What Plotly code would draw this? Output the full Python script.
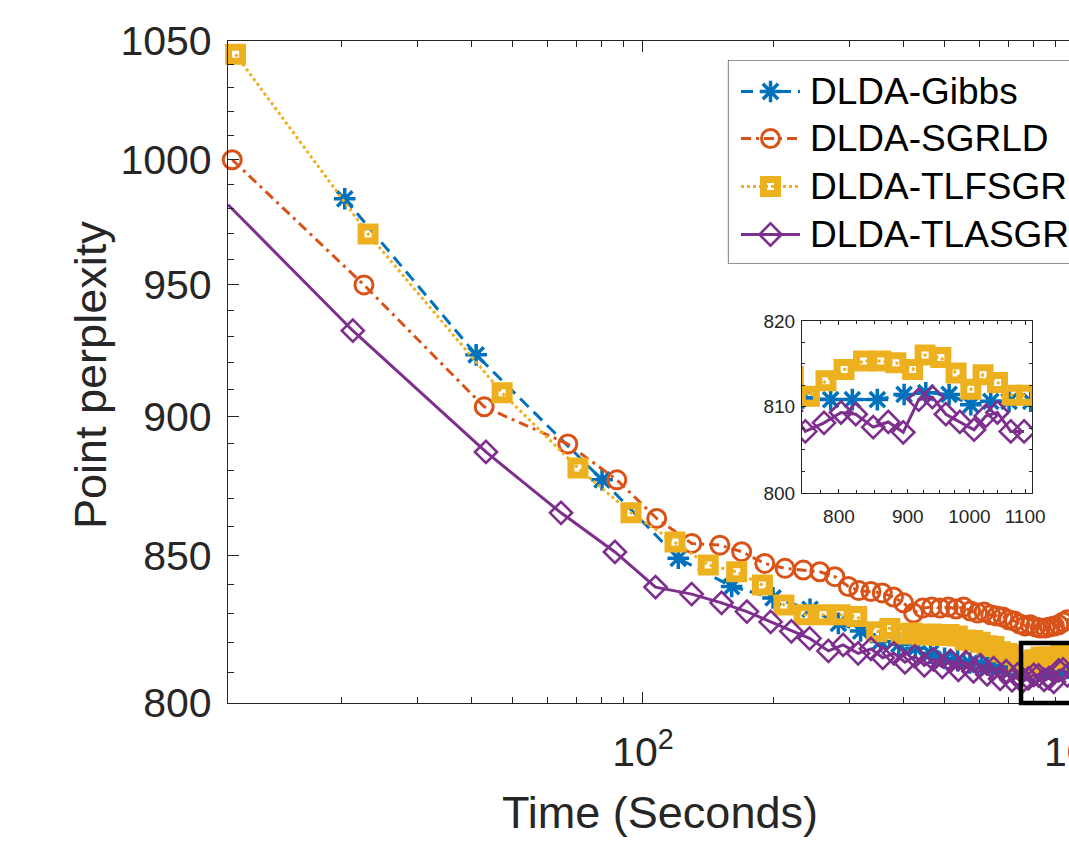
import numpy as np
import plotly.graph_objects as go

# ---------------- data ----------------
gibbs_t = [20.4, 41.1, 80.4, 120.7, 160.4, 200, 243.6, 283.3, 319, 355, 391, 427, 463, 499,
           535, 571, 607, 643, 679, 715, 752, 788.7, 818.5, 854.3, 894.3, 928.1, 965.9, 1002.4,
           1037.2, 1070.2, 1110.6]
gibbs_v = [984.1, 923.0, 876.8, 849.0, 839.2, 835.3, 831.4, 826.6, 824.0, 820.5, 819.5, 818.2,
           816.5, 814.8, 814.0, 813.3, 812.8, 812.2, 811.8, 811.4, 811.0, 810.8, 810.8, 810.8,
           811.4, 811.6, 811.4, 810.2, 810.6, 810.6, 810.6]

sgrld_t = [11.2, 22.6, 42.9, 67, 87, 107.6, 129.7, 150.7, 169.2, 191.4, 213.2, 235, 256.7, 278,
           298.8, 316, 337, 358, 380, 401, 423, 444, 466, 487, 509, 530, 552, 573, 595, 616, 638,
           659, 681, 702, 724, 745, 767, 788, 810, 831, 853, 874, 896, 917, 939, 960, 982, 1004,
           1026, 1048, 1070, 1092]
sgrld_v = [1000, 949.9, 903.5, 889.8, 876.8, 863.0, 854.2, 853.6, 851.3, 847.2, 845.5, 844.9,
           844.3, 842.6, 839.2, 837.8, 837.5, 837.0, 835.6, 833.6, 830.1, 831.8, 832.2, 831.8,
           832.2, 831.5, 832.2, 830.8, 830.1, 830.5, 829.5, 829.1, 828.8, 827.8, 827.4, 826.4,
           825.7, 826.1, 825.4, 825.0, 825.0, 825.4, 825.7, 826.1, 827.1, 827.8, 827.8, 827.5,
           827.0, 826.5, 826.8, 827.0]

tlfsgr_t = [11.4, 23.1, 47.2, 70.7, 93.8, 118.6, 141.6, 164.8, 189, 212, 236, 261, 285.8,
            312.5, 347.5, 372.8, 396, 419, 442, 465, 488, 511, 534, 557, 580, 603, 626, 649,
            672, 695, 718, 740, 760.6, 782.4, 807, 834.4, 859.3, 881.7, 907.4, 927, 952.3,
            977.5, 1002.4, 1023.6, 1049.3, 1076.2, 1102.6]
tlfsgr_v = [1044.3, 970.0, 908.7, 881.1, 865.0, 854.7, 846.7, 844.3, 839.7, 832.9, 829.5,
            829.5, 829.5, 828.9, 823.8, 824.9, 823.0, 823.3, 822.7, 823.0, 822.5, 822.8, 822.3,
            821.0, 820.8, 820.2, 819.0, 818.8, 817.0, 816.4, 816.0, 813.5, 811.2, 813.0, 814.3,
            815.3, 815.3, 815.1, 814.3, 816.0, 815.7, 813.9, 812.0, 813.7, 812.8, 811.3, 811.3]

tlasgr_t = [10.95, 21.3, 43.3, 64.6, 86.1, 106.9, 129.6, 152, 174, 197.5, 220.5, 243, 268.7,
            290.6, 314.8, 337, 359, 381, 404, 426, 448, 470, 493, 515, 537, 559, 582, 604, 626,
            648, 671, 693, 715, 737, 755.3, 779.8, 802.8, 823.3, 848.3, 870.4, 893.0, 917.0,
            938.6, 960.5, 983.8, 1008.0, 1028.4, 1049.0, 1073.3, 1098.0]
tlasgr_v = [981.7, 932.2, 886.9, 865.0, 851.2, 839.0, 836.6, 833.6, 830.6, 827.1, 823.9, 821.5,
            817.3, 819.3, 816.5, 818.0, 815.0, 816.5, 813.5, 815.5, 812.5, 814.5, 812.0, 814.0,
            811.0, 813.5, 810.5, 812.5, 809.5, 811.5, 808.0, 810.5, 807.5, 809.5, 807.1, 808.1,
            809.3, 809.1, 807.6, 808.2, 807.0, 810.8, 811.1, 809.1, 808.2, 807.3, 808.9, 809.3,
            807.1, 807.1]

names = ['DLDA-Gibbs', 'DLDA-SGRLD', 'DLDA-TLFSGR', 'DLDA-TLASGR']

main_x_ticks = [100]
main_x_ticktext = ['10<sup>2</sup>']
main_x_edge_tick = 1000          # decade label that sits at the cropped right edge
main_x_edge_text = '10<sup>3</sup>'
main_x_minor = [20, 30, 40, 50, 60, 70, 80, 90, 200, 300, 400, 500, 600, 700, 800, 900]
main_y_ticks = [800, 850, 900, 950, 1000, 1050]
main_y_minor = [v for v in range(810, 1050, 10) if v % 50 != 0]
inset_x_ticks = [800, 900, 1000, 1100]
inset_x_minor = [775, 825, 850, 875, 925, 950, 975, 1025, 1050, 1075]
inset_y_ticks = [800, 810, 820]
inset_y_minor = [802.5, 805, 807.5, 812.5, 815, 817.5]
zoom_box = dict(t0=750, t1=1112, v0=800, v1=820)

# ---------------- styling ----------------
W, H = 1069, 844
ML, MR, MT, MB = 228, 0, 41, 141
X_RANGE = [10.95, 968.5]
Y_RANGE = [800, 1050]
IX_RANGE = [751, 1113]
IY_RANGE = [800, 820]

FONT = 'Liberation Sans, Arial, Helvetica, sans-serif'
AX = '#262626'
colors = ['#0072BD', '#D95319', '#EDB120', '#7E2F8E']
dashes = ['12px,7px', '10px,5px,3px,5px', '3px,3px', 'solid']
lwidths = [3, 3, 3, 3]
symbols = ['asterisk-open', 'circle-open', 'square-open', 'diamond-open']
msizes = [18, 18, 14, 17]
mlw = [3.5, 3, 7, 2.6]

series = [(gibbs_t, gibbs_v), (sgrld_t, sgrld_v), (tlfsgr_t, tlfsgr_v), (tlasgr_t, tlasgr_v)]

pw = W - ML - MR
ph = H - MT - MB


def px_x(px):
    return (px - ML) / pw


def px_y(py):
    return (H - MB - py) / ph


def style(i):
    return dict(line=dict(color=colors[i], width=lwidths[i], dash=dashes[i]),
                marker=dict(symbol=symbols[i], size=msizes[i], color=colors[i],
                            line=dict(color=colors[i], width=mlw[i])))


fig = go.Figure()
# main axes
for i, (t, v) in enumerate(series):
    fig.add_trace(go.Scatter(x=t, y=v, name=names[i], mode='lines+markers', showlegend=False,
                             cliponaxis=False, **style(i)))
# inset axes
for i, (t, v) in enumerate(series):
    fig.add_trace(go.Scatter(x=t, y=v, mode='lines+markers', showlegend=False,
                             xaxis='x2', yaxis='y2', **style(i)))

# legend (drawn by hand so it can run past the cropped right edge like the reference)
LEG = dict(left=728.5, top=60.5, bottom=263, right=1100, x0=741, x1=800, xm=770.5, xt=808,
           rows=[91.5, 138.5, 186.5, 234.5])
for i in range(4):
    ry = LEG['rows'][i]
    st = style(i)
    fig.add_trace(go.Scatter(x=[LEG['x0'], LEG['x1']], y=[ry, ry], mode='lines',
                             line=st['line'], showlegend=False, hoverinfo='skip',
                             xaxis='x3', yaxis='y3', cliponaxis=False))
    fig.add_trace(go.Scatter(x=[LEG['xm']], y=[ry], mode='markers', marker=st['marker'],
                             showlegend=False, hoverinfo='skip',
                             xaxis='x3', yaxis='y3', cliponaxis=False))
    fig.add_annotation(text=names[i], xref='paper', yref='paper', x=px_x(LEG['xt']),
                       y=px_y(ry), xanchor='left', yanchor='middle', showarrow=False,
                       font=dict(family=FONT, size=37, color='black'))
fig.add_shape(type='rect', xref='paper', yref='paper', layer='below',
              x0=px_x(LEG['left']), x1=px_x(LEG['right']), y0=px_y(LEG['bottom']),
              y1=px_y(LEG['top']), line=dict(color=AX, width=1.2), fillcolor='white')

tick_font = dict(family=FONT, size=41, color=AX)
inset_font = dict(family=FONT, size=19, color=AX)

fig.update_layout(
    width=W, height=H,
    margin=dict(l=ML, r=MR, t=MT, b=MB, pad=0, autoexpand=False),
    paper_bgcolor='white', plot_bgcolor='white',
    showlegend=False,
    xaxis=dict(type='log', range=[np.log10(X_RANGE[0]), np.log10(X_RANGE[1])], domain=[0, 1],
               anchor='y', showgrid=False, zeroline=False,
               showline=True, linecolor=AX, linewidth=1.3, mirror='ticks',
               tickmode='array', tickvals=main_x_ticks, ticktext=main_x_ticktext,
               ticks='inside', ticklen=11, tickwidth=1.3, tickcolor=AX,
               tickfont=tick_font, ticklabelstandoff=13,
               minor=dict(tickmode='array', tickvals=main_x_minor, ticks='inside',
                          ticklen=6, tickwidth=1.3, tickcolor=AX, showgrid=False)),
    yaxis=dict(type='log', range=[np.log10(Y_RANGE[0]), np.log10(Y_RANGE[1])], domain=[0, 1],
               anchor='x', showgrid=False, zeroline=False,
               showline=True, linecolor=AX, linewidth=1.3, mirror=False,
               tickmode='array', tickvals=main_y_ticks, ticktext=[str(v) for v in main_y_ticks],
               ticks='inside', ticklen=11, tickwidth=1.3, tickcolor=AX,
               tickfont=tick_font, ticklabelstandoff=7,
               minor=dict(tickmode='array', tickvals=main_y_minor, ticks='inside',
                          ticklen=6, tickwidth=1.3, tickcolor=AX, showgrid=False)),
    xaxis2=dict(type='log', range=[np.log10(IX_RANGE[0]), np.log10(IX_RANGE[1])],
                domain=[px_x(802), px_x(1032)], anchor='y2', showgrid=False, zeroline=False,
                showline=True, linecolor=AX, linewidth=1.2, mirror='ticks',
                tickmode='array', tickvals=inset_x_ticks, ticktext=[str(v) for v in inset_x_ticks],
                ticks='inside', ticklen=4, tickwidth=1, tickcolor=AX,
                tickfont=inset_font, ticklabelstandoff=6,
                minor=dict(tickmode='array', tickvals=inset_x_minor, ticks='inside',
                           ticklen=3, tickwidth=1, tickcolor=AX, showgrid=False)),
    yaxis2=dict(type='log', range=[np.log10(IY_RANGE[0]), np.log10(IY_RANGE[1])],
                domain=[px_y(493), px_y(321)], anchor='x2', showgrid=False, zeroline=False,
                showline=True, linecolor=AX, linewidth=1.2, mirror='ticks',
                tickmode='array', tickvals=inset_y_ticks, ticktext=[str(v) for v in inset_y_ticks],
                ticks='inside', ticklen=4, tickwidth=1, tickcolor=AX,
                tickfont=inset_font, ticklabelstandoff=2,
                minor=dict(tickmode='array', tickvals=inset_y_minor, ticks='inside',
                           ticklen=3, tickwidth=1, tickcolor=AX, showgrid=False)),
    xaxis3=dict(visible=False, range=[LEG['left'], W], domain=[px_x(LEG['left']), 1],
                anchor='y3', fixedrange=True),
    yaxis3=dict(visible=False, range=[LEG['bottom'], LEG['top']],
                domain=[px_y(LEG['bottom']), px_y(LEG['top'])], anchor='x3', fixedrange=True),
)

# zoom box drawn in paper coordinates (computed from the log axes) so it is not clipped
lx0, lx1 = np.log10(X_RANGE[0]), np.log10(X_RANGE[1])
ly0, ly1 = np.log10(Y_RANGE[0]), np.log10(Y_RANGE[1])


def tx(t):
    return (np.log10(t) - lx0) / (lx1 - lx0)


def vy(v):
    return (np.log10(v) - ly0) / (ly1 - ly0)


fig.add_shape(type='rect', xref='paper', yref='paper',
              x0=tx(zoom_box['t0']), x1=tx(zoom_box['t1']),
              y0=vy(zoom_box['v0']), y1=vy(zoom_box['v1']),
              line=dict(color='black', width=4.5), fillcolor='rgba(0,0,0,0)', layer='above')

# decade label at the cropped right edge (its tick lies just past the visible area)
fig.add_annotation(text=main_x_edge_text, xref='paper', yref='paper', x=tx(main_x_edge_tick),
                   y=px_y(749), xanchor='center', yanchor='middle', showarrow=False,
                   font=tick_font)

# axis titles
fig.add_annotation(text='Time (Seconds)', xref='paper', yref='paper', x=px_x(660), y=px_y(812),
                   xanchor='center', yanchor='middle', showarrow=False,
                   font=dict(family=FONT, size=45, color=AX))
fig.add_annotation(text='Point perplexity', xref='paper', yref='paper', x=px_x(90), y=px_y(375),
                   xanchor='center', yanchor='middle', showarrow=False, textangle=-90,
                   font=dict(family=FONT, size=45, color=AX))

fig.write_html('out.html')
